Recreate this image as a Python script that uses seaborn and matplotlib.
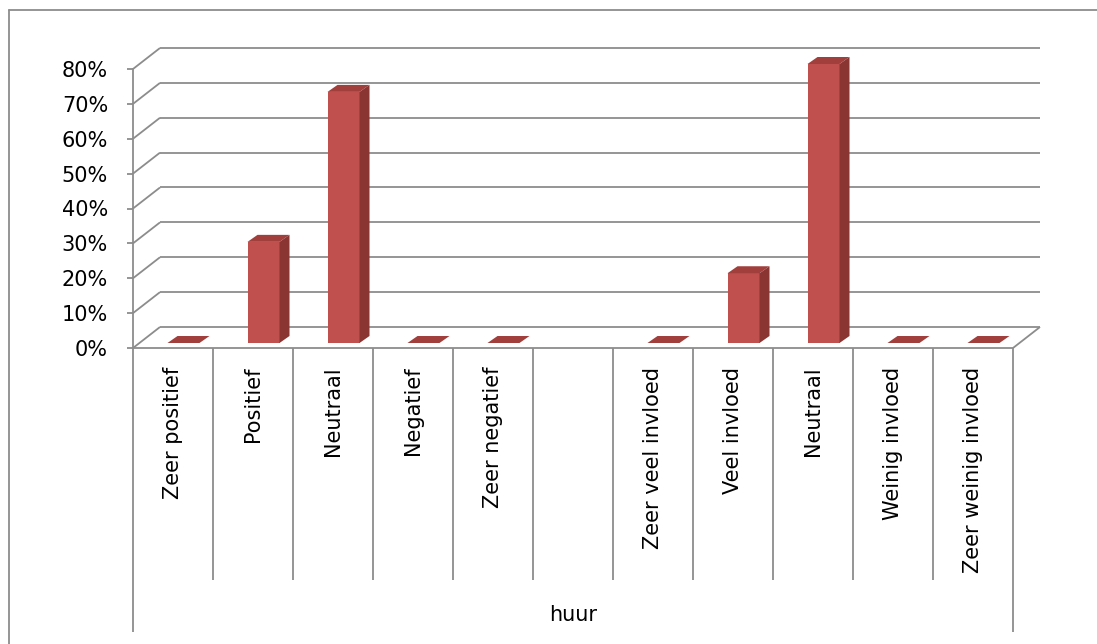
import matplotlib
matplotlib.use("Agg")
import matplotlib.pyplot as plt
from matplotlib.lines import Line2D
from matplotlib.patches import Polygon
from matplotlib.ticker import PercentFormatter
import numpy as np
import pandas as pd
import seaborn as sns

# Share of respondents per answer, two question blocks
waardering_labels = ["Zeer positief", "Positief", "Neutraal", "Negatief", "Zeer negatief"]
waardering_aandeel = [0.0, 0.29, 0.72, 0.0, 0.0]
invloed_labels = ["Zeer veel invloed", "Veel invloed", "Neutraal", "Weinig invloed", "Zeer weinig invloed"]
invloed_aandeel = [0.0, 0.20, 0.80, 0.0, 0.0]
groep_titel = "huur"
y_ticks = [0.0, 0.1, 0.2, 0.3, 0.4, 0.5, 0.6, 0.7, 0.8]

FRONT = "#C0504D"
TOP = "#A13F3C"
SIDE = "#8B3533"
GRID = "#8C8C8C"
TEXT = "#000000"
W, H = 1097, 644

sns.set_style("white")
plt.rcParams["font.family"] = ["DejaVu Sans"]
plt.rcParams["text.color"] = TEXT
plt.rcParams["xtick.color"] = TEXT
plt.rcParams["ytick.color"] = TEXT

# one empty slot separates the two blocks
slot_labels = waardering_labels + [""] + invloed_labels
slot_pos = np.arange(len(slot_labels))
n_a = len(waardering_labels)
bar_pos = list(slot_pos[:n_a]) + list(slot_pos[n_a + 1:])
df = pd.DataFrame({"positie": bar_pos, "aandeel": waardering_aandeel + invloed_aandeel})

fig = plt.figure(figsize=(W / 100, H / 100), dpi=100)
ax = fig.add_axes([133 / W, (H - 348) / H, 880 / W, 279 / H])

sns.barplot(data=df, x="positie", y="aandeel", native_scale=True, width=0.4,
            color=FRONT, saturation=1, linewidth=0, errorbar=None, ax=ax, zorder=3)

x_lo, x_hi = -0.5, len(slot_labels) - 0.5
ax.set_xlim(x_lo, x_hi)
ax.set_ylim(0, y_ticks[-1])

# pixel -> data unit conversion for the oblique projection
sx = ax.transData.transform((1, 0))[0] - ax.transData.transform((0, 0))[0]
sy = ax.transData.transform((0, 1))[1] - ax.transData.transform((0, 0))[1]


def px(dx, dy):
    return dx / sx, dy / sy


Dx, Dy = px(27, 21)          # depth of the back wall
fx, fy = px(10.5, 5)         # front face of the columns
bdx, bdy = px(10, 7)         # column depth

line_kw = dict(color=GRID, lw=1.3, clip_on=False, zorder=1, solid_capstyle="butt")

# back wall gridlines and left wall diagonals
for t in y_ticks:
    ax.plot([x_lo + Dx, x_hi + Dx], [t + Dy, t + Dy], **line_kw)
    ax.plot([x_lo, x_lo + Dx], [t, t + Dy], **line_kw)
ax.plot([x_hi, x_hi + Dx], [0, Dy], **line_kw)
ax.plot([x_lo, x_hi], [0, 0], **line_kw)

# category dividers below the floor
short_end = -(580 - 348) / sy
long_end = -(632 - 348) / sy
edges = np.arange(x_lo, x_hi + 0.01, 1.0)
for k, xv in enumerate(edges):
    end = long_end if k in (0, len(edges) - 1) else short_end
    ax.plot([xv, xv], [0, end], **line_kw)

# columns: shift the front faces and add top and side faces
for patch in list(ax.patches):
    x0 = patch.get_x() + fx
    w = patch.get_width()
    h = patch.get_height()
    patch.set_x(x0)
    patch.set_y(fy)
    patch.set_clip_on(False)
    y0, y1 = fy, fy + h
    top = [(x0, y1), (x0 + w, y1), (x0 + w + bdx, y1 + bdy), (x0 + bdx, y1 + bdy)]
    ax.add_patch(Polygon(top, closed=True, facecolor=TOP, edgecolor="none",
                         zorder=3, clip_on=False))
    if h > 0:
        side = [(x0 + w, y0), (x0 + w + bdx, y0 + bdy), (x0 + w + bdx, y1 + bdy), (x0 + w, y1)]
        ax.add_patch(Polygon(side, closed=True, facecolor=SIDE, edgecolor="none",
                             zorder=3, clip_on=False))

for s in ["top", "right", "bottom"]:
    ax.spines[s].set_visible(False)
ax.spines["left"].set_color(GRID)
ax.spines["left"].set_linewidth(1.3)

ax.set_xticks(slot_pos, slot_labels, rotation=90, fontsize=15)
ax.tick_params(axis="x", length=0, pad=13.5, bottom=False, labelcolor=TEXT)
ax.set_yticks(y_ticks)
ax.yaxis.set_major_formatter(PercentFormatter(1.0, decimals=0))
ax.tick_params(axis="y", left=True, direction="out", length=4.5, width=1.3,
               color=GRID, pad=13.5, labelsize=15, labelcolor=TEXT)
ax.set_xlabel("")
ax.set_ylabel("")
ax.grid(False)

ax.text(slot_pos.mean(), -(615 - 348) / sy, groep_titel, ha="center", va="center",
        fontsize=15, color=TEXT)

# chart area border
fig.add_artist(Line2D([8.5 / W, 8.5 / W], [0, 1 - 10 / H], transform=fig.transFigure,
                      color=GRID, lw=1.3))
fig.add_artist(Line2D([8.5 / W, 1], [1 - 10 / H, 1 - 10 / H], transform=fig.transFigure,
                      color=GRID, lw=1.3))

fig.savefig("out.png", dpi=100)
